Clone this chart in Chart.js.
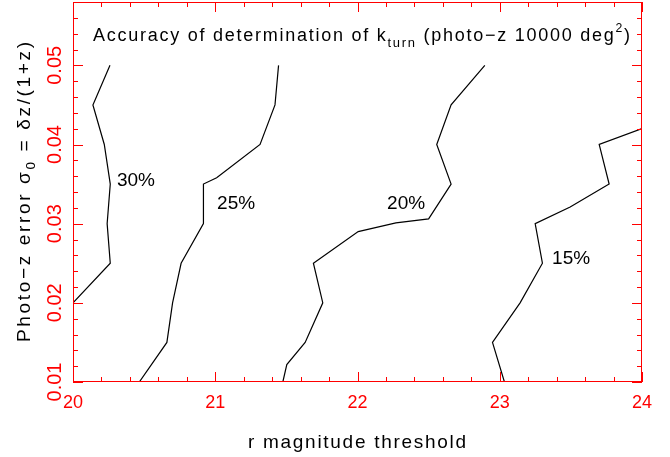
<!DOCTYPE html>
<html>
<head>
<meta charset="utf-8">
<script src="https://cdn.jsdelivr.net/npm/chart.js@4"></script>
<style>
body { margin: 0; background: #fff; }
canvas { display: block; }
</style>
</head>
<body>
<canvas id="chart" width="670" height="457"></canvas>
<script>
// contours of k_turn accuracy: r magnitude threshold (x) vs photo-z error (y)
var x30 = [20.26, 20.14, 20.22, 20.262, 20.24, 20.262, 20.0];
var y30 = [0.050, 0.045, 0.040, 0.035, 0.030, 0.025, 0.020];

var x25 = [21.445, 21.42, 21.315, 21.01, 20.917, 20.917, 20.76, 20.70, 20.66, 20.466];
var y25 = [0.050, 0.045, 0.040, 0.0358, 0.035, 0.030, 0.025, 0.020, 0.015, 0.010];

var x20 = [22.895, 22.658, 22.557, 22.658, 22.50, 22.27, 22.005, 21.69, 21.756, 21.632, 21.503, 21.475];
var y20 = [0.050, 0.045, 0.040, 0.035, 0.0306, 0.0301, 0.029, 0.025, 0.020, 0.015, 0.0122, 0.010];

var x15 = [24.0, 23.699, 23.769, 23.495, 23.249, 23.30, 23.143, 22.949, 23.033];
var y15 = [0.042, 0.040, 0.035, 0.0321, 0.030, 0.025, 0.020, 0.015, 0.010];

var xTicks = [20, 21, 22, 23, 24];
var yTicks = [0.01, 0.02, 0.03, 0.04, 0.05];

var labelText = ['30%', '25%', '20%', '15%'];
var labelX = [20.309, 21.013, 22.208, 23.368];
var labelY = [0.0348, 0.0319, 0.0319, 0.0249];

var RED = '#ff0000';
var FONT = '"Liberation Sans", Arial, sans-serif';

function toPoints(xs, ys) {
    return xs.map(function(v, i) { return { x: v, y: ys[i] }; });
}

function contour(xs, ys) {
    return {
        data: toPoints(xs, ys),
        showLine: true,
        borderColor: '#000',
        borderWidth: 1.2,
        pointRadius: 0,
        fill: false,
        tension: 0
    };
}

// draws text made of pieces [text, dy, scale], stretched to a target width
function drawParts(ctx, parts, x, y, size, target, align) {
    var chars = [];
    parts.forEach(function(p) {
        for (var ch of p[0]) chars.push({ ch: ch, dy: p[1], size: size * p[2] });
    });
    var natural = 0;
    chars.forEach(function(c) {
        ctx.font = c.size + 'px ' + FONT;
        c.w = ctx.measureText(c.ch).width;
        natural += c.w;
    });
    var gap = target ? (target - natural) / (chars.length - 1) : 0;
    var total = natural + gap * (chars.length - 1);
    var cx = align === 'center' ? x - total / 2 : x;
    ctx.textAlign = 'left';
    ctx.textBaseline = 'alphabetic';
    chars.forEach(function(c) {
        ctx.font = c.size + 'px ' + FONT;
        ctx.fillText(c.ch, cx, y + c.dy);
        cx += c.w + gap;
    });
}

var framePlugin = {
    id: 'frame',
    afterDraw: function(chart) {
        var ctx = chart.ctx;
        var a = chart.chartArea;
        var xs = chart.scales.x, ys = chart.scales.y;
        ctx.save();

        // box and inward ticks on all four sides
        ctx.strokeStyle = RED;
        ctx.lineWidth = 1;
        ctx.strokeRect(a.left + 0.5, a.top + 0.5, a.right - a.left - 1, a.bottom - a.top - 1);
        ctx.beginPath();
        for (var i = 0; i <= 20; i++) {
            var xv = 20 + i * 0.2;
            var px = Math.round(xs.getPixelForValue(xv)) + 0.5;
            var len = (i % 5 === 0) ? 10 : 5;
            ctx.moveTo(px, a.bottom); ctx.lineTo(px, a.bottom - len);
            ctx.moveTo(px, a.top); ctx.lineTo(px, a.top + len);
        }
        for (var j = 0; j <= 24; j++) {
            var yv = 0.01 + j * 0.002;
            var py = Math.round(ys.getPixelForValue(yv)) + 0.5;
            var ylen = (j % 5 === 0) ? 10 : 5;
            ctx.moveTo(a.left, py); ctx.lineTo(a.left + ylen, py);
            ctx.moveTo(a.right, py); ctx.lineTo(a.right - ylen, py);
        }
        ctx.stroke();

        // y tick labels, rotated
        ctx.fillStyle = RED;
        ctx.font = '20px ' + FONT;
        ctx.textAlign = 'center';
        ctx.textBaseline = 'alphabetic';
        ys.ticks.forEach(function(t) {
            ctx.save();
            ctx.translate(61, ys.getPixelForValue(t.value));
            ctx.rotate(-Math.PI / 2);
            ctx.fillText(t.value.toFixed(2), 0, 0);
            ctx.restore();
        });

        // titles
        ctx.fillStyle = '#000';
        drawParts(ctx, [['Accuracy of determination of k', 0, 1], ['turn', 6, 0.72],
            [' (photo\u2212z 10000 deg', 0, 1], ['2', -9, 0.68], [')', 0, 1]], 93, 41, 18, 537, 'left');
        drawParts(ctx, [['r magnitude threshold', 0, 1]], 357, 448, 19, 218, 'center');
        ctx.save();
        ctx.translate(30, 192);
        ctx.rotate(-Math.PI / 2);
        drawParts(ctx, [['Photo\u2212z error \u03c3', 0, 1], ['0', 5, 0.72], [' = \u03b4z/(1+z)', 0, 1]], 0, 0, 19, 300, 'center');
        ctx.restore();

        // contour labels
        ctx.font = '19px ' + FONT;
        ctx.textAlign = 'left';
        labelText.forEach(function(s, k) {
            ctx.fillText(s, xs.getPixelForValue(labelX[k]), ys.getPixelForValue(labelY[k]));
        });
        ctx.restore();
    }
};

new Chart(document.getElementById('chart'), {
    type: 'scatter',
    data: {
        datasets: [contour(x30, y30), contour(x25, y25), contour(x20, y20), contour(x15, y15)]
    },
    options: {
        responsive: false,
        animation: false,
        layout: { padding: { top: 2, right: 28, left: 0, bottom: 0 } },
        plugins: { legend: { display: false }, tooltip: { enabled: false } },
        scales: {
            x: {
                type: 'linear',
                min: 20,
                max: 24,
                afterBuildTicks: function(s) { s.ticks = xTicks.map(function(v) { return { value: v }; }); },
                afterFit: function(s) { s.height = 75; },
                grid: { display: false, drawTicks: false },
                border: { display: false },
                ticks: {
                    color: RED,
                    font: { size: 18, family: FONT },
                    padding: 10,
                    maxRotation: 0,
                    callback: function(v) { return String(v); }
                }
            },
            y: {
                type: 'linear',
                min: 0.01,
                max: 0.058,
                afterBuildTicks: function(s) { s.ticks = yTicks.map(function(v) { return { value: v }; }); },
                afterFit: function(s) { s.width = 73; },
                grid: { display: false, drawTicks: false },
                border: { display: false },
                ticks: { display: false }
            }
        }
    },
    plugins: [framePlugin]
});
</script>
</body>
</html>
